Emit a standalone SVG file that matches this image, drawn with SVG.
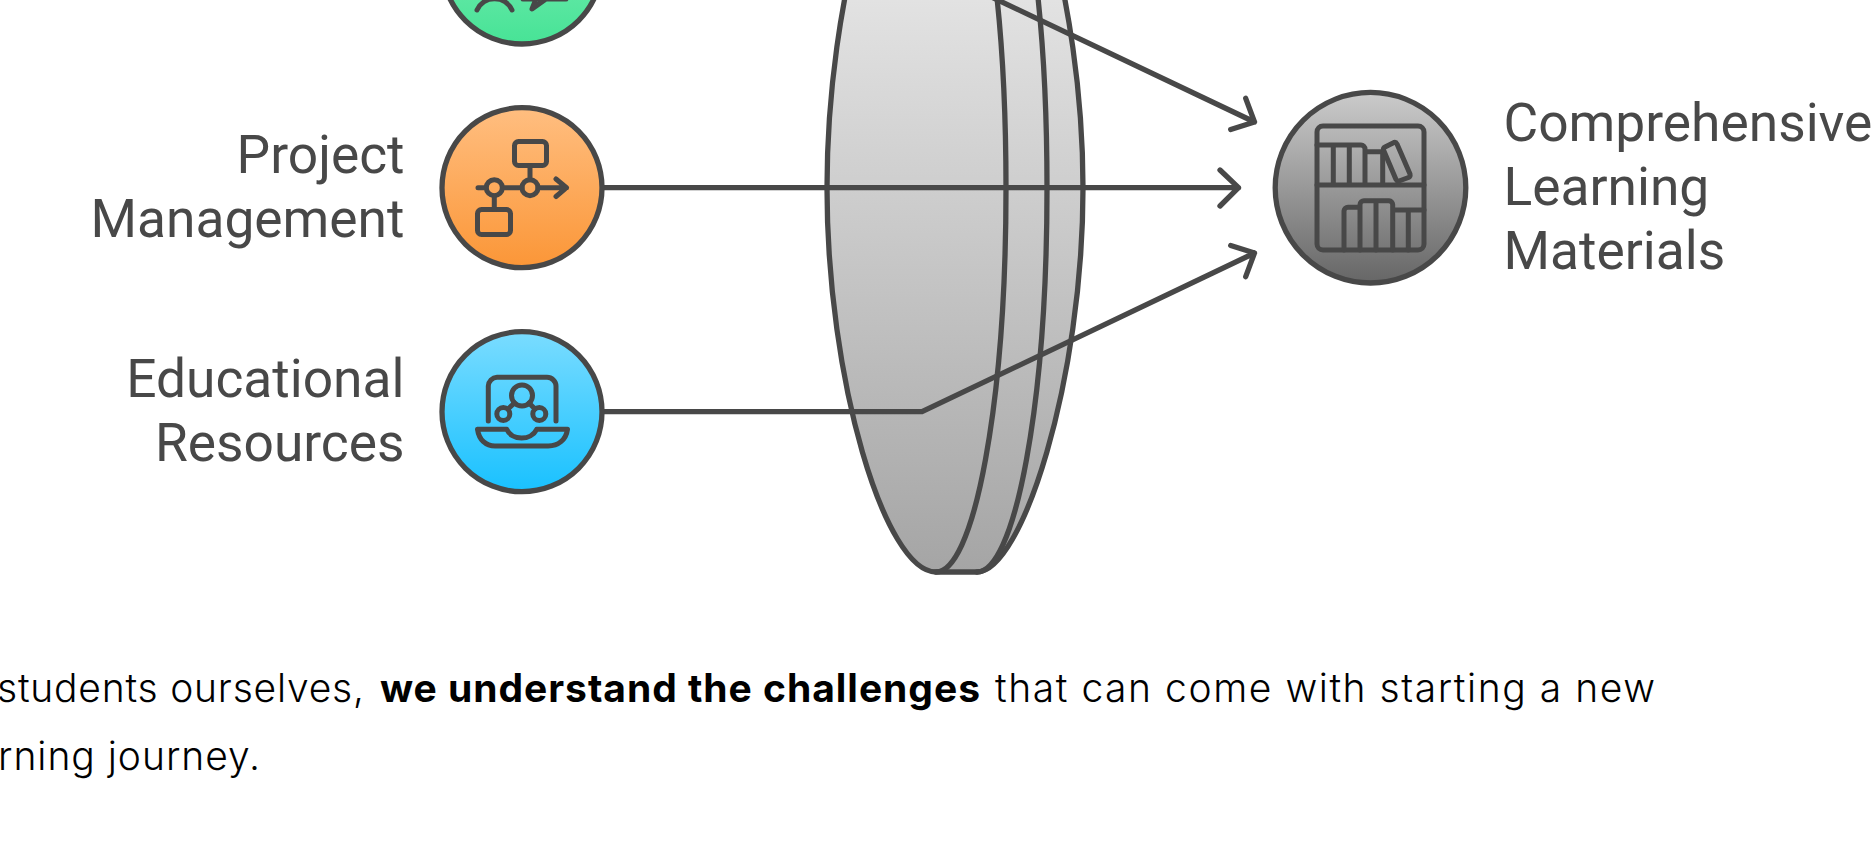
<svg xmlns="http://www.w3.org/2000/svg" width="1873" height="844" viewBox="0 0 1873 844">
<style>
.ln{fill:none;stroke:#484848;stroke-width:5.3;stroke-linecap:round;stroke-linejoin:round}
.ic{fill:none;stroke:#484848;stroke-width:5;stroke-linecap:round;stroke-linejoin:round}
.disc{stroke:#484848;stroke-width:5.3}
.lab{font-family:Roboto,"Liberation Sans",sans-serif;font-size:53.3px;fill:#484848}
.body{font-family:Inter,"Liberation Sans",sans-serif;font-size:39px;fill:#000}
.r{text-anchor:end}
</style>
<defs>
<linearGradient id="gG" x1="0" y1="0" x2="0" y2="1"><stop offset="0" stop-color="#8cf0be"/><stop offset="1" stop-color="#47e396"/></linearGradient>
<linearGradient id="gO" x1="0" y1="0" x2="0" y2="1"><stop offset="0" stop-color="#ffbe80"/><stop offset="1" stop-color="#fb9637"/></linearGradient>
<linearGradient id="gB" x1="0" y1="0" x2="0" y2="1"><stop offset="0" stop-color="#7adcff"/><stop offset="1" stop-color="#19c1ff"/></linearGradient>
<linearGradient id="gK" x1="0" y1="0" x2="0" y2="1"><stop offset="0" stop-color="#cbcbcb"/><stop offset="1" stop-color="#666666"/></linearGradient>
<linearGradient id="gL" gradientUnits="userSpaceOnUse" x1="0" y1="-196" x2="0" y2="572"><stop offset="0" stop-color="#f7f7f7"/><stop offset="1" stop-color="#a5a5a5"/></linearGradient>
</defs>
<rect width="1873" height="844" fill="#fff"/>
<g id="lens">
<path d="M936 -196C885 -196 827 -4 827 188C827 380 885 572 936 572H977C1022 572 1083 380 1083 188C1083 -4 1022 -196 977 -196Z" fill="url(#gL)" class="disc" stroke-linejoin="round"/>
<path class="ln" d="M936 -196A70 384 0 0 1 936 572M977 -196A70 384 0 0 1 977 572"/>
</g>
<g id="connectors">
<path class="ln" d="M603 -36H922L1254.500 122M1245.700 98.300L1254.500 122L1230.700 129.500"/>
<path class="ln" d="M603 187.700H1238.500M1220 170L1238.500 187.700L1220 206"/>
<path class="ln" d="M603 411.700H922L1254.500 253M1230.700 245.500L1254.500 253L1245.700 276.700"/>
</g>
<g id="node-green">
<circle cx="522" cy="-36" r="80" fill="url(#gG)" class="disc"/>
<path class="ic" d="M477 10C484 -5 505 -5 512 10M523 -1H566M536 -1L532 9L546 -1"/>
</g>
<g id="node-project">
<circle cx="522" cy="187.700" r="80" fill="url(#gO)" class="disc"/>
<g class="ic">
<rect x="514.500" y="141.500" width="32" height="24" rx="4"/>
<rect x="477.500" y="209.500" width="33" height="25" rx="4"/>
<circle cx="494.300" cy="187.700" r="8"/><circle cx="530" cy="187.700" r="8"/>
<path d="M478 187.700H486M502.500 187.700H522M538 187.700H566.500M556 179L566.500 187.700L556 196.500M530 165.700V179.700M494.300 196V209.500"/>
</g>
<text class="lab r" x="404.500" y="173">Project</text>
<text class="lab r" x="404.500" y="237">Management</text>
</g>
<g id="node-education">
<circle cx="522" cy="411.700" r="80" fill="url(#gB)" class="disc"/>
<g class="ic">
<path d="M488.300 421V386A9 9 0 0 1 497 377.300H547A9 9 0 0 1 556 386V421"/>
<circle cx="522" cy="395.500" r="10.500"/><circle cx="503.300" cy="414" r="6.500"/><circle cx="539.300" cy="414" r="6.500"/>
<path d="M514.500 403L508 409M529 403L535 409"/>
<path d="M477.500 429.300H506.700C512 441 531 441 536.700 429.300H567.500C566 440 558 446 548.300 446H495C486 446 479 440 477.500 429.300Z"/>
</g>
<text class="lab r" x="404.500" y="397">Educational</text>
<text class="lab r" x="404.500" y="461">Resources</text>
</g>
<g id="node-materials">
<circle cx="1370.500" cy="187.700" r="95.300" fill="url(#gK)" class="disc"/>
<g class="ic">
<rect x="1317" y="126" width="107" height="124" rx="6"/>
<path d="M1317 145H1361A4 4 0 0 1 1365 149V185M1317 185H1424M1333.300 145V185M1349.300 145V185M1365 151.700H1382.700V185"/>
<path d="M1385 147L1394 142.500Q1396 142 1397 144L1410 174Q1410.500 176.500 1408.500 177.500L1399 181Q1397 181.500 1396 179.500L1383.500 150Q1383 148 1385 147Z"/>
<path d="M1344 250V211A4 4 0 0 1 1348 207.300H1360M1360 250V204.500A4 4 0 0 1 1364 200.700H1389A4 4 0 0 1 1392.700 204.500V250M1376 200.700V250M1392.700 210H1424M1408.300 210V250"/>
</g>
<text class="lab" x="1503.500" y="141">Comprehensive</text>
<text class="lab" x="1503.500" y="205">Learning</text>
<text class="lab" x="1503.500" y="269">Materials</text>
</g>
<g id="caption">
<text class="body" x="-3" y="702" font-weight="300" textLength="367" lengthAdjust="spacing">students ourselves,</text>
<text class="body" x="380" y="702" font-weight="700" textLength="600" lengthAdjust="spacing">we understand the challenges</text>
<text class="body" x="995" y="702" font-weight="300" textLength="660" lengthAdjust="spacing">that can come with starting a new</text>
<text class="body" x="-2" y="770" font-weight="300" textLength="262" lengthAdjust="spacing">rning journey.</text>
</g>
</svg>
